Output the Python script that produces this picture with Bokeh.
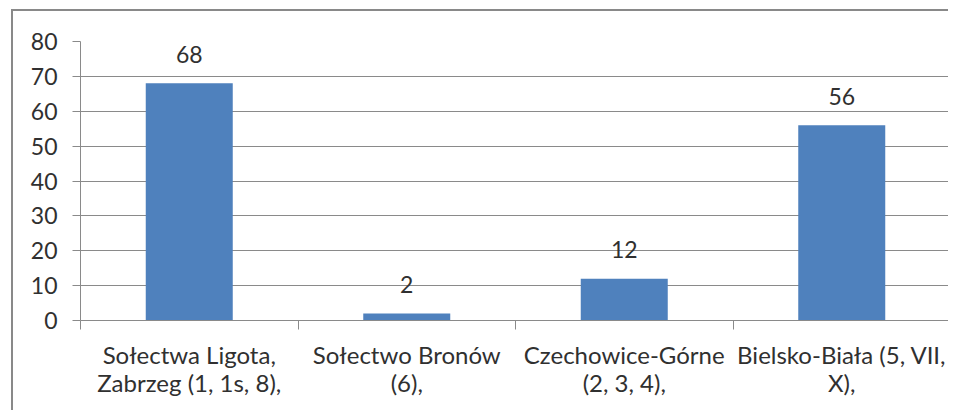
from bokeh.plotting import figure
from bokeh.models import Range1d, LinearAxis, FixedTicker, ColumnDataSource, Grid
from bokeh.embed import file_html
from bokeh.resources import INLINE
from bokeh.core.properties import value

categories = ["Sołectwa Ligota,\nZabrzeg (1, 1s, 8),", "Sołectwo Bronów\n(6),",
              "Czechowice-Górne\n(2, 3, 4),", "Bielsko-Biała (5, VII,\nX),"]
values = [68, 2, 12, 56]
y_ticks = [0, 10, 20, 30, 40, 50, 60, 70, 80]

FONT = "Lato"
TXT = "#303030"
GRID = "#8a8a8a"
BAR = "#4F81BD"

xs = [i + 0.5 for i in range(len(categories))]
bounds = list(range(len(categories) + 1))
src = ColumnDataSource(dict(x=xs, top=values, lab=[str(v) for v in values]))

p = figure(width=937, height=401, output_backend="svg", toolbar_location=None,
           x_range=Range1d(0, len(categories)), y_range=Range1d(0, 80),
           x_axis_type=None, y_axis_type=None,
           min_border_left=67, min_border_right=0, min_border_top=30, min_border_bottom=92)
p.margin = (9, 0, 0, 11)
p.styles = {"border-left": "2px solid #898989", "border-top": "2px solid #898989"}
p.outline_line_color = None
p.background_fill_color = "white"
p.border_fill_color = "white"

yax = LinearAxis(ticker=FixedTicker(ticks=y_ticks))
yax.axis_line_color = GRID
yax.major_tick_line_color = GRID
yax.major_tick_out = 8
yax.major_tick_in = 0
yax.minor_tick_line_color = None
yax.major_label_text_font = FONT
yax.major_label_text_font_size = "23px"
yax.major_label_text_color = TXT
yax.major_label_standoff = 15
p.add_layout(yax, "left")

cax = LinearAxis(ticker=FixedTicker(ticks=xs, minor_ticks=bounds))
cax.major_label_overrides = {x: c for x, c in zip(xs, categories)}
cax.axis_line_color = GRID
cax.major_tick_line_color = None
cax.major_tick_out = 0
cax.major_tick_in = 0
cax.minor_tick_line_color = GRID
cax.minor_tick_out = 9
cax.minor_tick_in = 0
cax.major_label_text_font = FONT
cax.major_label_text_font_size = "24px"
cax.major_label_text_color = TXT
cax.major_label_text_line_height = 0.97
cax.major_label_standoff = 10
p.add_layout(cax, "below")

p.add_layout(Grid(dimension=1, ticker=FixedTicker(ticks=y_ticks), grid_line_color=GRID, grid_line_width=1))

p.vbar(x="x", top="top", width=0.4, source=src, fill_color=BAR, line_color=None)
p.text(x="x", y="top", text="lab", source=src, text_align="center", text_baseline="alphabetic",
       y_offset=-29, text_font=value(FONT), text_font_size="23px", text_color=TXT)

open("out.html", "w").write(file_html(p, INLINE))
